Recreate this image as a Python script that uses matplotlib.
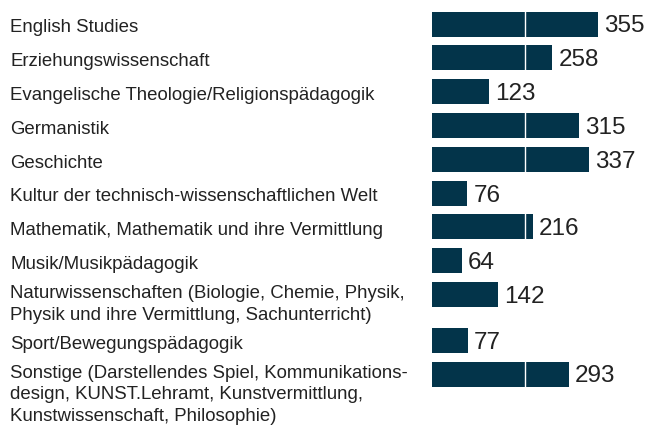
import matplotlib.pyplot as plt
import matplotlib.transforms as mtransforms

plt.rcParams["font.family"] = ["Liberation Sans", "DejaVu Sans"]

categories = [
    "English Studies",
    "Erziehungswissenschaft",
    "Evangelische Theologie/Religionspädagogik",
    "Germanistik",
    "Geschichte",
    "Kultur der technisch-wissenschaftlichen Welt",
    "Mathematik, Mathematik und ihre Vermittlung",
    "Musik/Musikpädagogik",
    "Naturwissenschaften (Biologie, Chemie, Physik,\nPhysik und ihre Vermittlung, Sachunterricht)",
    "Sport/Bewegungspädagogik",
    "Sonstige (Darstellendes Spiel, Kommunikations-\ndesign, KUNST.Lehramt, Kunstvermittlung,\nKunstwissenschaft, Philosophie)",
]
counts = [355, 258, 123, 315, 337, 76, 216, 64, 142, 77, 293]

BAR_COLOR = "#03344a"
TEXT_COLOR = "#222222"
ROW_STEP_PX = 33.8      # pixel height of one single-line row
EXTRA_LINE = 12 / ROW_STEP_PX  # extra row space per additional label line

# row positions: a multi-line label pushes the following rows down
positions = []
pos = 0.0
for label in categories:
    positions.append(pos)
    pos += 1 + EXTRA_LINE * label.count("\n")

fig = plt.figure(figsize=(6.49, 4.29), dpi=100)
W, H = 649, 429
left_px = 432
ax = fig.add_axes([left_px / W, 0, 1 - left_px / W, 1])

px_per_unit = 0.467
ax.set_xlim(0, (W - left_px) / px_per_unit)
top = -24 / ROW_STEP_PX
ax.set_ylim(top + H / ROW_STEP_PX, top)
ax.axis("off")

bar_h = 25 / ROW_STEP_PX
ax.barh(positions, counts, height=bar_h, color=BAR_COLOR, zorder=2)
# white grid line, only visible where it crosses the bars
ax.axvline(200, color="white", lw=1, zorder=3)

# value labels
offset = mtransforms.offset_copy(ax.transData, fig=fig, x=6, y=0, units="dots")
for p, v in zip(positions, counts):
    ax.text(v, p, str(v), transform=offset, va="center_baseline", ha="left",
            fontsize=17.5, color=TEXT_COLOR)

# category labels at the left side of the figure
lab_tr = mtransforms.blended_transform_factory(fig.transFigure, ax.transData)
for p, label in zip(positions, categories):
    if "\n" in label:
        ax.text(10 / W, p - bar_h / 2 + 3 / ROW_STEP_PX, label, transform=lab_tr,
                va="top", ha="left", fontsize=13.4, color=TEXT_COLOR,
                linespacing=1.38)
    else:
        ax.text(10 / W, p + 2 / ROW_STEP_PX, label, transform=lab_tr,
                va="center_baseline", ha="left", fontsize=13.4, color=TEXT_COLOR)

fig.savefig("out.png", dpi=100)
